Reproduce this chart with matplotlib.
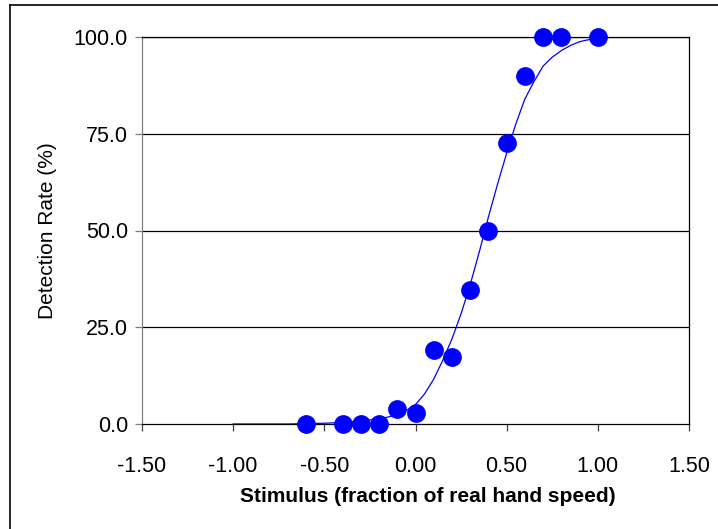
import matplotlib
matplotlib.use('Agg')
import matplotlib.pyplot as plt
from matplotlib.lines import Line2D
from matplotlib.ticker import FormatStrFormatter

plt.rcParams['font.family'] = ['Liberation Sans', 'DejaVu Sans']

# Measured detection rates
stimulus = [-0.6, -0.4, -0.3, -0.2, -0.1, 0.0, 0.1, 0.2, 0.3, 0.4, 0.5, 0.6, 0.7, 0.8, 1.0]
detection = [0, 0, 0, 0, 3.8, 2.8, 19.0, 17.2, 34.5, 50.0, 72.7, 90.0, 100, 100, 100]

# Fitted curve
fit_x = [-1.0, -0.9, -0.8, -0.7, -0.6, -0.5, -0.4, -0.3, -0.2, -0.15, -0.1, -0.05, 0.0,
         0.05, 0.1, 0.15, 0.2, 0.25, 0.3, 0.35, 0.4, 0.45, 0.5, 0.55, 0.6,
         0.65, 0.7, 0.75, 0.8, 0.85, 0.9, 0.95, 1.0]
fit_y = [0, 0, 0, 0, 0.1, 0.2, 0.4, 0.8, 1.3, 1.8, 2.5, 3.5, 5.0,
         7.8, 11.6, 16.5, 22.0, 28.5, 36.0, 44.5, 53.5, 62.0, 70.0, 77.5, 84.0,
         88.5, 92.5, 94.8, 96.5, 97.8, 98.8, 99.3, 99.6]

x_ticks = [-1.5, -1.0, -0.5, 0.0, 0.5, 1.0, 1.5]
y_ticks = [0, 25, 50, 75, 100]

fig = plt.figure(figsize=(7.18, 5.29), dpi=100)
ax = fig.add_axes([142 / 718, 1 - 424 / 529, (689 - 142) / 718, (424 - 37) / 529])

# gridlines
for yv in y_ticks[1:]:
    ax.axhline(yv, color='black', lw=0.9, zorder=1)

ax.plot(fit_x, fit_y, color='#0000ff', lw=0.9, zorder=2)
ax.plot(stimulus, detection, 'o', color='#0000ff', markersize=12.5, zorder=3, clip_on=False)

ax.set_xlim(-1.5, 1.5)
ax.set_ylim(0, 100)
ax.set_xticks(x_ticks)
ax.set_yticks(y_ticks)
ax.xaxis.set_major_formatter(FormatStrFormatter('%.2f'))
ax.yaxis.set_major_formatter(FormatStrFormatter('%.1f'))
ax.tick_params(axis='both', labelsize=15.5, direction='out', length=5, width=0.9, color='#808080')
ax.tick_params(axis='x', pad=18, color='#404040')
ax.tick_params(axis='y', pad=5)

ax.spines['left'].set_color('#808080')
for s in ['bottom', 'top', 'right']:
    ax.spines[s].set_color('black')
for s in ax.spines.values():
    s.set_linewidth(0.9)

ax.set_xlabel('Stimulus (fraction of real hand speed)', fontsize=15, fontweight='bold', labelpad=9)
ax.xaxis.set_label_coords(0.523, -0.163)
ax.set_ylabel('Detection Rate (%)', fontsize=15, labelpad=12)

# outer chart frame
fig.add_artist(Line2D([10 / 718, 1], [1 - 5 / 529, 1 - 5 / 529], color='black', lw=1.2, transform=fig.transFigure))
fig.add_artist(Line2D([10 / 718, 10 / 718], [0, 1 - 5 / 529], color='black', lw=1.2, transform=fig.transFigure))

fig.savefig('out.png', dpi=100)
